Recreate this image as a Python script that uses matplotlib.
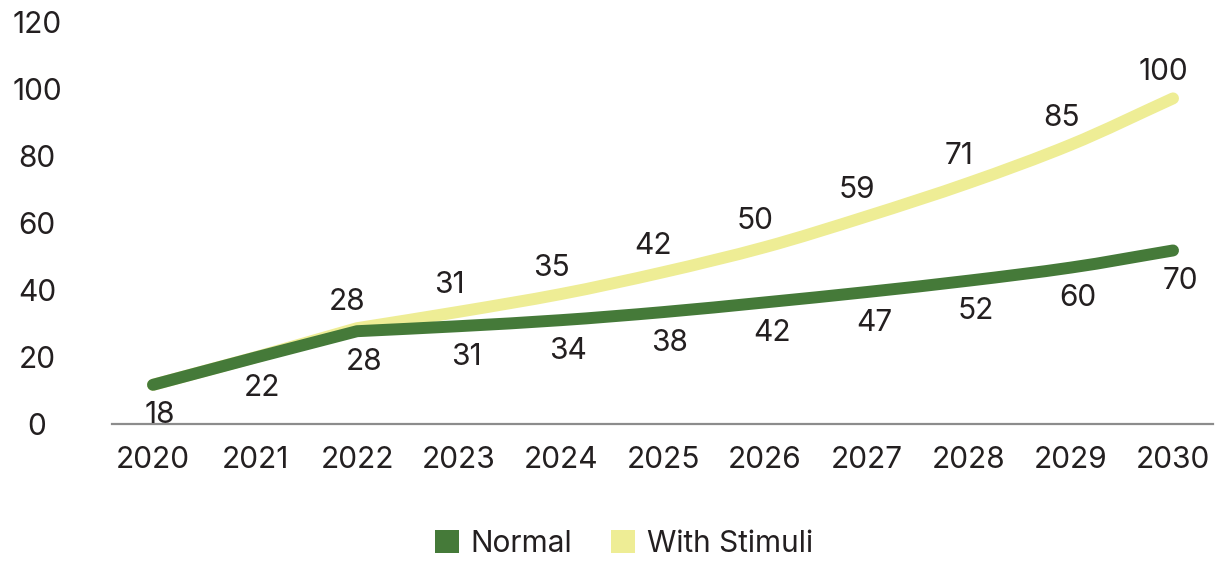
import numpy as np
import matplotlib.pyplot as plt
from matplotlib.path import Path
from matplotlib.patches import PathPatch, Patch

plt.rcParams['font.family'] = ['Inter', 'DejaVu Sans']

years = [2020, 2021, 2022, 2023, 2024, 2025, 2026, 2027, 2028, 2029, 2030]
normal = [11.7, 19.8, 27.7, 29.2, 31.0, 33.4, 36.3, 39.4, 42.8, 46.7, 51.8]
stimuli = [11.7, 19.9, 28.6, 33.5, 38.8, 45.3, 52.8, 62.0, 72.0, 83.4, 97.2]
normal_labels = ["18", "22", "28", "31", "34", "38", "42", "47", "52", "60", "70"]
stimuli_labels = ["", "", "28", "31", "35", "42", "50", "59", "71", "85", "100"]

GREEN = "#457a39"
YELLOW = "#eeed95"
TEXT = "#231f20"
FS = 21.5


def smooth_path(xs, ys, start=2):
    # straight up to index `start`, then monotone cubic bezier
    x = np.asarray(xs, float)
    y = np.asarray(ys, float)
    n = len(x)
    d = np.diff(y) / np.diff(x)
    m = np.zeros(n)
    m[start] = d[start]
    m[-1] = d[-1]
    for i in range(start + 1, n - 1):
        if d[i - 1] * d[i] > 0:
            m[i] = 2 * d[i - 1] * d[i] / (d[i - 1] + d[i])
    verts = [(x[0], y[0])]
    codes = [Path.MOVETO]
    for i in range(n - 1):
        if i < start:
            verts.append((x[i + 1], y[i + 1]))
            codes.append(Path.LINETO)
            continue
        h = x[i + 1] - x[i]
        verts += [(x[i] + h / 3, y[i] + m[i] * h / 3),
                  (x[i + 1] - h / 3, y[i + 1] - m[i + 1] * h / 3),
                  (x[i + 1], y[i + 1])]
        codes += [Path.CURVE4] * 3
    return Path(verts, codes)


fig = plt.figure(figsize=(12.22, 5.62), dpi=100)
ax = fig.add_axes([112 / 1222, 1 - 424 / 562, 1101 / 1222, 402 / 562])

for vals, col in [(stimuli, YELLOW), (normal, GREEN)]:
    patch = PathPatch(smooth_path(years, vals), facecolor="none", edgecolor=col,
                      lw=8.6, capstyle="round", joinstyle="round")
    ax.add_patch(patch)

for x, y, lab in zip(years, normal, normal_labels):
    ax.annotate(lab, (x, y), xytext=(5, -22), textcoords="offset points",
                ha="center", va="center", fontsize=FS, color=TEXT)
for x, y, lab in zip(years, stimuli, stimuli_labels):
    if lab:
        ax.annotate(lab, (x, y), xytext=(-7, 19), textcoords="offset points",
                    ha="center", va="center", fontsize=FS, color=TEXT)

ax.set_xlim(2019.598, 2030.392)
ax.set_ylim(0, 120)
ax.set_xticks(years)
ax.set_xticklabels([str(y) for y in years])
ax.set_yticks(range(0, 121, 20))

for s in ["top", "right", "left"]:
    ax.spines[s].set_visible(False)
ax.spines["bottom"].set_color("#8c8c8c")
ax.spines["bottom"].set_linewidth(1.6)

ax.tick_params(axis="x", length=0, pad=16, labelsize=FS, labelcolor=TEXT)
ax.tick_params(axis="y", length=0, pad=54, labelsize=FS, labelcolor=TEXT)
for t in ax.get_yticklabels():
    t.set_horizontalalignment("center")
for t, dx in zip(ax.get_xticklabels(), years):
    pass

handles = [Patch(facecolor=GREEN, label="Normal"),
           Patch(facecolor=YELLOW, label="With Stimuli")]
fig.legend(handles=handles, loc="center", bbox_to_anchor=(624 / 1222, 1 - 544 / 562),
           ncol=2, frameon=False, fontsize=FS, handlelength=0.8, handleheight=0.8,
           handletextpad=0.4, columnspacing=1.3, labelcolor=TEXT)

fig.savefig("out.png", dpi=100)
